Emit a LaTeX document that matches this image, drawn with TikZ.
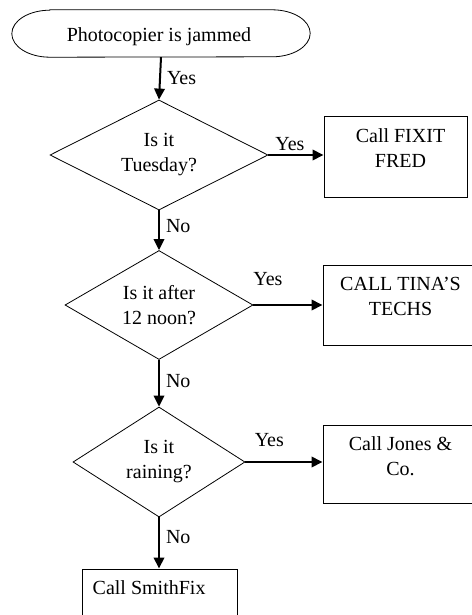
\documentclass[tikz,border=0pt]{standalone}
\usepackage{fontspec}
\setmainfont{Liberation Serif}
\usetikzlibrary{shapes.geometric, arrows.meta}

\tikzset{
  decision/.style={diamond, draw, line width=0.8pt, shape aspect=2, inner sep=0pt, align=center},
  outbox/.style={rectangle, draw, line width=1pt},
  boxtext/.style={anchor=north, inner sep=0pt, align=center},
  flow/.style={line width=2pt, -{Triangle[length=11pt,width=10.5pt]}},
  flowlabel/.style={inner sep=0pt}
}

\begin{document}
\begin{tikzpicture}[x=1pt, y=-1pt, font=\fontsize{20pt}{25pt}\selectfont]
  \useasboundingbox (0,0) rectangle (471,615);

  % start
  \node[minimum width=298pt, minimum height=47pt, inner sep=0pt] (start) at (161,33.5) {};
  \draw[line width=0.8pt] ([xshift=38pt]start.north west) -- ([xshift=-38pt]start.north east)
    arc[start angle=90, end angle=-90, x radius=38pt, y radius=23.5pt]
    -- ([xshift=38pt]start.south west)
    arc[start angle=270, end angle=90, x radius=38pt, y radius=23.5pt] -- cycle;
  \node[anchor=base] (starttxt) at (159,42) {Photocopier is jammed};

  % questions
  \node[decision, minimum width=218pt, minimum height=110pt] (tue) at (159,155) {Is it\\Tuesday?};
  \node[decision, minimum width=188pt, minimum height=109pt] (noon) at (159,305) {Is it after\\12 noon?};
  \node[decision, minimum width=172pt, minimum height=110pt] (rain) at (159,462) {Is it\\raining?};

  % who to call
  \node[outbox, minimum width=143pt, minimum height=80pt] (fred) at (395.5,157) {};
  \node[outbox, minimum width=157pt, minimum height=80pt] (tina) at (401.5,305) {};
  \node[outbox, minimum width=157pt, minimum height=78pt] (jones) at (401.5,464) {};
  \node[outbox, minimum width=155pt, minimum height=71pt] (smith) at (159.5,604.5) {};

  \node[boxtext] (fredtxt) at ([xshift=77pt, yshift=-11.5pt]fred.north west) {Call FIXIT\\FRED};
  \node[boxtext] (tinatxt) at ([xshift=78pt, yshift=-12pt]tina.north west) {CALL TINA’S\\TECHS};
  \node[boxtext] (jonestxt) at ([xshift=78pt, yshift=-11.5pt]jones.north west) {Call Jones \&\\Co.};
  \node[boxtext, anchor=north west] (smithtxt) at ([xshift=11pt, yshift=-12pt]smith.north west) {Call SmithFix};

  % arrows
  \draw[flow] (start.south) -- node[flowlabel, right=6pt] (yes0) {Yes} (tue.north);
  \draw[flow] (tue.east) -- node[flowlabel, above=3pt, pos=0.39] (yes1) {Yes} (tue.east -| fred.west);
  \draw[flow] (tue.south) -- node[flowlabel, right=6pt, pos=0.4] (no1) {No} (noon.north);
  \draw[flow] (noon.east) -- node[flowlabel, above=18pt, pos=0.21] (yes2) {Yes} (noon.east -| tina.west);
  \draw[flow] (noon.south) -- node[flowlabel, right=6pt, pos=0.45] (no2) {No} (rain.north);
  \draw[flow] (rain.east) -- node[flowlabel, above=14pt, pos=0.31] (yes3) {Yes} (rain.east -| jones.west);
  \draw[flow] (rain.south) -- node[flowlabel, right=6pt, pos=0.38] (no3) {No} (rain.south |- smith.north);
\end{tikzpicture}
\end{document}
